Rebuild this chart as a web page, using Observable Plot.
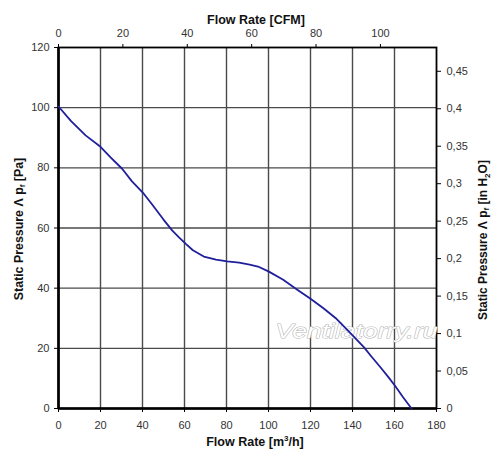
<!DOCTYPE html>
<html>
<head>
<meta charset="utf-8">
<script src="https://cdn.jsdelivr.net/npm/d3@7"></script>
<script src="https://cdn.jsdelivr.net/npm/@observablehq/plot@0.6"></script>
<style>
  html, body { margin: 0; padding: 0; background: #fff; }
  #chart svg { display: block; }
</style>
</head>
<body>
<div id="chart"></div>
<script>
// Fan curve: flow rate (m³/h) vs static pressure (Pa)
const flow =     [0, 6, 12.9, 20, 24.8, 30.3, 35, 40.6, 44.6, 50, 54.1, 57.5, 60.5, 64, 69.2, 75, 80.3, 86, 91, 95, 100.2, 107, 113.7, 120, 126, 131.9, 136, 140.6, 145.4, 149, 153.3, 157, 160.5, 164, 168.1];
const pressure = [100.4, 95.5, 90.8, 87, 83.5, 79.7, 75.5, 71.4, 67.8, 62.8, 59.2, 56.8, 54.8, 52.6, 50.5, 49.5, 48.9, 48.5, 47.8, 47.2, 45.5, 42.8, 39.5, 36.5, 33.4, 30.1, 27.2, 23.9, 20.4, 17.3, 13.7, 10.5, 7.3, 3.8, 0];

const xTicks = [0, 20, 40, 60, 80, 100, 120, 140, 160, 180];      // m³/h
const yTicks = [0, 20, 40, 60, 80, 100, 120];                     // Pa
const cfmTicks = [0, 20, 40, 60, 80, 100];                        // CFM (top)
const inH2OTicks = [0, 0.05, 0.1, 0.15, 0.2, 0.25, 0.3, 0.35, 0.4, 0.45]; // in H2O (right)

const CFM_SCALE = 1.533;   // m³/h per CFM as drawn on the chart
const PA_PER_INH2O = 249.09;

const data = flow.map((f, i) => ({flow: f, pressure: pressure[i]}));

const plot = Plot.plot({
  width: 500,
  height: 460,
  marginLeft: 58,
  marginRight: 64,
  marginTop: 47,
  marginBottom: 52,
  x: {domain: [0, 180]},
  y: {domain: [0, 120]},
  style: {fontFamily: "Arial, 'Liberation Sans', sans-serif", fontSize: "11px", color: "#333", background: "#fff"},
  marks: [
    Plot.gridX(xTicks.filter(d => d > 0 && d < 180), {stroke: "#4a4a4a", strokeOpacity: 1, strokeWidth: 1.4}),
    Plot.gridY(yTicks.filter(d => d > 0 && d < 120), {stroke: "#4a4a4a", strokeOpacity: 1, strokeWidth: 1.4}),
    Plot.frame({stroke: "#000", strokeWidth: 1.8}),
    Plot.ruleX([0], {stroke: "#000", strokeWidth: 2.6}),
    Plot.ruleY([0], {stroke: "#000", strokeWidth: 2.6}),
    Plot.axisX(xTicks, {anchor: "bottom", tickSize: 4, tickPadding: 9, label: null, stroke: "#000", fill: "#333"}),
    Plot.axisX(cfmTicks.map(c => c * CFM_SCALE), {anchor: "top", tickSize: 4, tickPadding: 7, label: null,
      tickFormat: d => String(Math.round(d / CFM_SCALE)), stroke: "#000", fill: "#333"}),
    Plot.axisY(yTicks, {anchor: "left", tickSize: 4, tickPadding: 5, label: null, stroke: "#000", fill: "#333"}),
    Plot.axisY(inH2OTicks.map(v => v * PA_PER_INH2O), {anchor: "right", tickSize: 4, tickPadding: 6, label: null,
      tickFormat: d => String(+(d / PA_PER_INH2O).toFixed(2)).replace(".", ","), stroke: "#000", fill: "#333"}),
    Plot.text(["Ventilatorry.ru"], {frameAnchor: "bottom-right", dx: 1, dy: -71, textAnchor: "end", lineAnchor: "bottom",
      fontSize: 20, fontStyle: "italic", fill: "#fff", stroke: "#b4b4b4", strokeWidth: 1, paintOrder: "stroke",
      className: "watermark"}),
    Plot.line(data, {x: "flow", y: "pressure", stroke: "#1f1f9c", strokeWidth: 1.8})
  ]
});

const svg = d3.select(plot);
svg.selectAll(".watermark text").attr("textLength", 162).attr("lengthAdjust", "spacingAndGlyphs");

const titleFont = "Arial, 'Liberation Sans', sans-serif";

svg.append("text")
  .attr("x", 256).attr("y", 24)
  .attr("text-anchor", "middle")
  .attr("font-family", titleFont).attr("font-weight", "bold").attr("font-size", 12.5).attr("fill", "#111")
  .text("Flow Rate [CFM]");

const bt = svg.append("text")
  .attr("x", 255).attr("y", 446)
  .attr("text-anchor", "middle")
  .attr("font-family", titleFont).attr("font-weight", "bold").attr("font-size", 12.5).attr("fill", "#111");
bt.append("tspan").text("Flow Rate [m");
bt.append("tspan").text("3").attr("font-size", 8).attr("dy", -5);
bt.append("tspan").text("/h]").attr("dy", 5);

const lt = svg.append("text")
  .attr("transform", "translate(22.5,229) rotate(-90)")
  .attr("text-anchor", "middle")
  .attr("font-family", titleFont).attr("font-weight", "bold").attr("font-size", 12.4).attr("fill", "#111");
lt.append("tspan").text("Static Pressure Λ p");
lt.append("tspan").text("f").attr("font-size", 8).attr("dy", 2);
lt.append("tspan").text(" [Pa]").attr("dy", -2);

const rt = svg.append("text")
  .attr("transform", "translate(486.5,240) rotate(-90)")
  .attr("text-anchor", "middle")
  .attr("font-family", titleFont).attr("font-weight", "bold").attr("font-size", 12).attr("fill", "#111");
rt.append("tspan").text("Static Pressure Λ p");
rt.append("tspan").text("f").attr("font-size", 8).attr("dy", 2);
rt.append("tspan").text(" [in H").attr("dy", -2);
rt.append("tspan").text("2").attr("font-size", 8).attr("dy", 3);
rt.append("tspan").text("O]").attr("dy", -3);

document.getElementById("chart").appendChild(plot);
</script>
</body>
</html>
